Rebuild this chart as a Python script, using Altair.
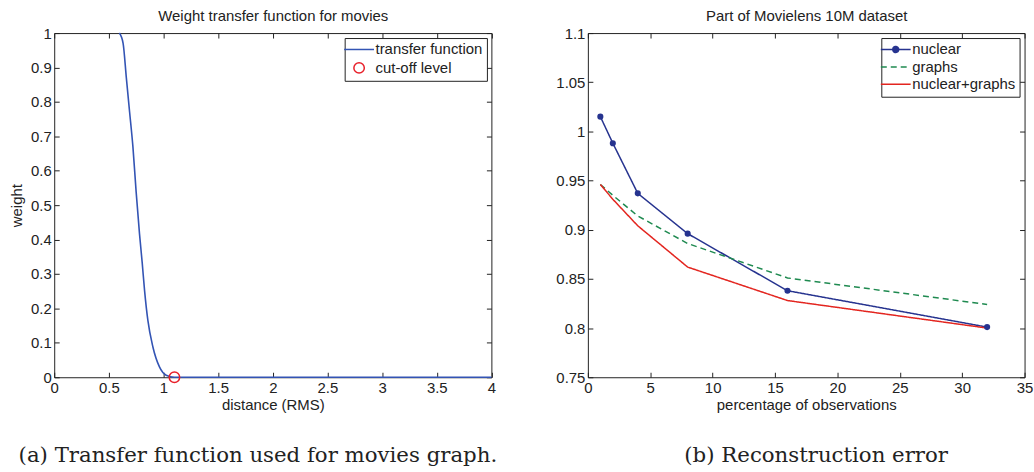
import altair as alt
import pandas as pd

# ---------------- Panel (a): weight transfer function ----------------
tf_distance = [0.596, 0.630, 0.660, 0.690, 0.720, 0.750, 0.780, 0.805, 0.827,
               0.857, 0.903, 0.963, 1.024, 1.100, 1.5, 2.0, 2.5, 3.0, 3.5, 4.0]
tf_weight = [1.000, 0.971, 0.870, 0.770, 0.670, 0.537, 0.418, 0.333, 0.251,
             0.165, 0.088, 0.030, 0.006, 0.000, 0.0, 0.0, 0.0, 0.0, 0.0, 0.0]
cutoff_distance = [1.1]
cutoff_weight = [0.0]
a_series = ["transfer function", "cut-off level"]
a_x_ticks = [0, 0.5, 1, 1.5, 2, 2.5, 3, 3.5, 4]
a_y_ticks = [0, 0.1, 0.2, 0.3, 0.4, 0.5, 0.6, 0.7, 0.8, 0.9, 1]

# ---------------- Panel (b): reconstruction error ----------------
obs_pct = [1, 2, 4, 8, 16, 32]
err_nuclear = [1.015, 0.988, 0.937, 0.896, 0.838, 0.801]
err_graphs = [0.946, 0.935, 0.914, 0.886, 0.851, 0.824]
err_both = [0.946, 0.931, 0.904, 0.862, 0.828, 0.800]
b_series = ["nuclear", "graphs", "nuclear+graphs"]
b_x_ticks = [0, 5, 10, 15, 20, 25, 30, 35]
b_y_ticks = [0.75, 0.8, 0.85, 0.9, 0.95, 1, 1.05, 1.1]

SANS = "Liberation Sans"
SERIF = "DejaVu Serif"
INK = "#222222"

# legend symbol paths (unit = sqrt(size)/2 px)
LINE_PATH = "M-3,0L3,0"
CIRCLE_PATH = "M-1.05,0A1.05,1.05 0 1,1 1.05,0A1.05,1.05 0 1,1 -1.05,0Z"
LINE_DOT_PATH = ("M-3,0L3,0"
                 "M-0.6,0A0.6,0.6 0 1,1 0.6,0A0.6,0.6 0 1,1 -0.6,0Z"
                 "M-0.38,0A0.38,0.38 0 1,1 0.38,0A0.38,0.38 0 1,1 -0.38,0Z"
                 "M-0.18,0A0.18,0.18 0 1,1 0.18,0A0.18,0.18 0 1,1 -0.18,0Z"
                 "M-0.05,0A0.05,0.05 0 1,1 0.05,0A0.05,0.05 0 1,1 -0.05,0Z")


def axis(orient, values, labels=True, title=None, title_pad=4):
    kw = dict(orient=orient, values=values, format="~g", labels=labels,
              grid=False, domain=False, ticks=True, tickSize=5, offset=-5,
              tickColor=INK, tickWidth=1, labelFont=SANS, labelFontSize=15,
              labelColor=INK, labelPadding=3, labelOverlap=False,
              labelFlush=False, titleFont=SANS, titleFontSize=15,
              titleFontWeight="normal", titleColor=INK, titlePadding=title_pad)
    kw["title"] = title if title is not None else ""
    return alt.Axis(**kw)


# ---- panel (a)
df_tf = pd.DataFrame({"distance": tf_distance, "weight": tf_weight,
                      "series": a_series[0]})
df_cut = pd.DataFrame({"distance": cutoff_distance, "weight": cutoff_weight,
                       "series": a_series[1]})

ax_x_a = alt.Scale(domain=[0, 4], nice=False, zero=False)
ax_y_a = alt.Scale(domain=[0, 1], nice=False, zero=False)
col_a = alt.Scale(domain=a_series, range=["#3354b4", "#e8202a"])
shape_a = alt.Scale(domain=a_series, range=[LINE_PATH, CIRCLE_PATH])

line_a = alt.Chart(df_tf).mark_line(strokeWidth=1.6, interpolate="monotone").encode(
    x=alt.X("distance:Q", scale=ax_x_a,
            axis=axis("bottom", a_x_ticks, title="distance (RMS)", title_pad=2)),
    y=alt.Y("weight:Q", scale=ax_y_a,
            axis=axis("left", a_y_ticks, title="weight", title_pad=6)),
    color=alt.Color("series:N", scale=col_a, title=None),
)
pts_a = alt.Chart(df_cut).mark_point(filled=False, size=100, strokeWidth=1.5, opacity=1).encode(
    x=alt.X("distance:Q", scale=ax_x_a, axis=None),
    y=alt.Y("weight:Q", scale=ax_y_a, axis=None),
    color=alt.Color("series:N", scale=col_a, title=None),
    shape=alt.Shape("series:N", scale=shape_a, title=None),
)
frame_a = alt.Chart(df_cut).mark_point(opacity=0).encode(
    x=alt.X("distance:Q", scale=ax_x_a,
            axis=axis("top", a_x_ticks, labels=False,
                      title="Weight transfer function for movies", title_pad=9)),
    y=alt.Y("weight:Q", scale=ax_y_a, axis=axis("right", a_y_ticks, labels=False)),
)
left = alt.layer(line_a, pts_a, frame_a).resolve_axis(
    x="independent", y="independent"
).properties(
    width=439.5, height=346,
    title=alt.TitleParams("(a) Transfer function used for movies graph.",
                          orient="bottom", anchor="middle", font=SERIF,
                          fontSize=21.4, fontWeight="normal", color=INK,
                          offset=33, dx=-15),
)

# ---- panel (b)
df_b = pd.DataFrame({
    "pct": obs_pct * 3,
    "err": err_nuclear + err_graphs + err_both,
    "series": [b_series[0]] * 6 + [b_series[1]] * 6 + [b_series[2]] * 6,
})
df_nuc = pd.DataFrame({"pct": obs_pct, "err": err_nuclear})

ax_x_b = alt.Scale(domain=[0, 35], nice=False, zero=False)
ax_y_b = alt.Scale(domain=[0.75, 1.1], nice=False, zero=False)
col_b = alt.Scale(domain=b_series, range=["#26338f", "#1f8a50", "#e3251f"])
dash_b = alt.Scale(domain=b_series, range=[[1, 0], [6, 4], [1, 0]])
shape_b = alt.Scale(domain=b_series, range=[LINE_DOT_PATH, LINE_PATH, LINE_PATH])

line_b = alt.Chart(df_b).mark_line(strokeWidth=1.5).encode(
    x=alt.X("pct:Q", scale=ax_x_b,
            axis=axis("bottom", b_x_ticks, title="percentage of observations", title_pad=2)),
    y=alt.Y("err:Q", scale=ax_y_b, axis=axis("left", b_y_ticks)),
    color=alt.Color("series:N", scale=col_b, title=None),
    strokeDash=alt.StrokeDash("series:N", scale=dash_b, title=None),
    order=alt.Order("pct:Q"),
)
dots_b = alt.Chart(df_nuc).mark_point(filled=True, size=38, opacity=1, color="#26338f").encode(
    x=alt.X("pct:Q", scale=ax_x_b, axis=None),
    y=alt.Y("err:Q", scale=ax_y_b, axis=None),
)
legend_src_b = alt.Chart(df_b).transform_filter("false").mark_point(
    filled=False, size=100, strokeWidth=1.5, opacity=1).encode(
    x=alt.X("pct:Q", scale=ax_x_b, axis=None),
    y=alt.Y("err:Q", scale=ax_y_b, axis=None),
    color=alt.Color("series:N", scale=col_b, title=None),
    shape=alt.Shape("series:N", scale=shape_b, title=None),
)
frame_b = alt.Chart(df_nuc).mark_point(opacity=0).encode(
    x=alt.X("pct:Q", scale=ax_x_b,
            axis=axis("top", b_x_ticks, labels=False,
                      title="Part of Movielens 10M dataset", title_pad=9)),
    y=alt.Y("err:Q", scale=ax_y_b, axis=axis("right", b_y_ticks, labels=False)),
)
right = alt.layer(line_b, dots_b, legend_src_b, frame_b).resolve_axis(
    x="independent", y="independent"
).properties(
    width=439, height=346,
    title=alt.TitleParams("(b) Reconstruction error",
                          orient="bottom", anchor="middle", font=SERIF,
                          fontSize=21.4, fontWeight="normal", color=INK,
                          offset=33, dx=10),
)

chart = alt.hconcat(left, right, spacing=57.5).resolve_scale(
    color="independent", shape="independent", strokeDash="independent"
).resolve_legend(
    color="independent", shape="independent", strokeDash="independent"
).configure_view(
    stroke=INK, strokeWidth=1
).configure_legend(
    orient="top-right", offset=5, padding=4, strokeColor=INK, fillColor="white",
    symbolSize=100, symbolOffset=3, labelOffset=9, rowPadding=1.5,
    labelFont=SANS, labelFontSize=15, labelColor=INK, symbolStrokeWidth=1.5,
    cornerRadius=0,
).properties(
    padding={"left": 8.5, "top": 7, "right": 0, "bottom": 0},
    background="white",
)

chart.save("out.html", embed_options={"renderer": "svg", "actions": False})
